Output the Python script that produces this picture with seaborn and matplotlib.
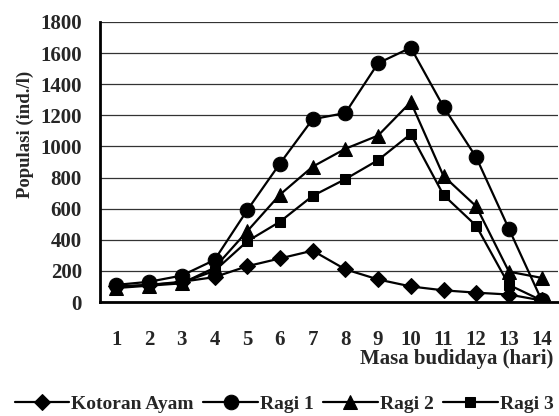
import matplotlib
matplotlib.use("Agg")
import matplotlib.pyplot as plt
import seaborn as sns
import pandas as pd
import numpy as np

days = list(range(1, 15))
kotoran_ayam = [100, 110, 130, 160, 230, 280, 330, 210, 145, 100, 75, 60, 48, 10]
ragi1 = [110, 130, 170, 270, 590, 890, 1175, 1215, 1535, 1635, 1255, 930, 470, 12]
ragi2 = [90, 105, 120, 220, 455, 690, 870, 985, 1070, 1285, 810, 615, 195, 155]
ragi3 = [95, 110, 125, 200, 390, 516, 682, 790, 912, 1080, 688, 490, 110, 10]
series_names = ["Kotoran Ayam", "Ragi 1", "Ragi 2", "Ragi 3"]
yticks = list(range(0, 1801, 200))

df = pd.DataFrame({
    "day": days * 4,
    "value": kotoran_ayam + ragi1 + ragi2 + ragi3,
    "series": sum([[n] * len(days) for n in series_names], []),
})

sns.set_style("white")
plt.rcParams["font.family"] = ["Liberation Serif", "DejaVu Serif"]
plt.rcParams["font.weight"] = "bold"

W, H = 559, 416
fig = plt.figure(figsize=(W / 100, H / 100), dpi=100)
ax = fig.add_axes([100 / W, 1 - 302 / H, 458 / W, 280 / H])

markers = {"Kotoran Ayam": ("D", 8), "Ragi 1": ("o", 10.5), "Ragi 2": ("^", 10.5), "Ragi 3": ("s", 6.5)}
for name in series_names:
    m, ms = markers[name]
    sns.lineplot(data=df[df.series == name], x="day", y="value", ax=ax,
                 color="black", lw=1.6, marker=m, markersize=ms,
                 markeredgecolor="black", markerfacecolor="black", label=name)

ax.set_xlim(0.5, 14.5)
ax.set_ylim(0, 1800)
ax.set_yticks(yticks)
ax.set_yticklabels([str(v) for v in yticks], fontsize=15, fontweight="bold")
ax.yaxis.grid(True, color="#333333", lw=0.9)
ax.set_axisbelow(True)

ax.set_xticks(np.arange(0.5, 15, 1))
ax.set_xticklabels([])
ax.set_xticks(days, minor=True)
ax.set_xticklabels([str(d) for d in days], minor=True, fontsize=15, fontweight="bold")
ax.tick_params(axis="x", which="major", direction="out", length=7, width=1.6, color="black")
ax.tick_params(axis="x", which="minor", length=0, pad=20)
ax.tick_params(axis="y", direction="out", length=7, width=1.6, color="black", pad=6)

for s in ["top", "right"]:
    ax.spines[s].set_visible(False)
for s in ["left", "bottom"]:
    ax.spines[s].set_color("black")
    ax.spines[s].set_linewidth(2)

ax.set_xlabel("")
ax.set_ylabel("")
fig.text(25 / W, 1 - 134 / H, "Populasi (ind./l)", ha="center", va="center", rotation=90,
         fontsize=13.5, fontweight="bold")
fig.text(553 / W, 1 - 359 / H, "Masa budidaya (hari)", ha="right", va="center",
         fontsize=15, fontweight="bold")

ax_w = 458
lx = (284 - 100) / ax_w
ly = -(404 - 302) / 280
ax.legend(loc="center", bbox_to_anchor=(lx, ly),
          ncol=4, frameon=False, prop={"weight": "bold", "size": 14},
          handlelength=2.8, columnspacing=0.5, handletextpad=0.1)

fig.savefig("out.png", dpi=100)
